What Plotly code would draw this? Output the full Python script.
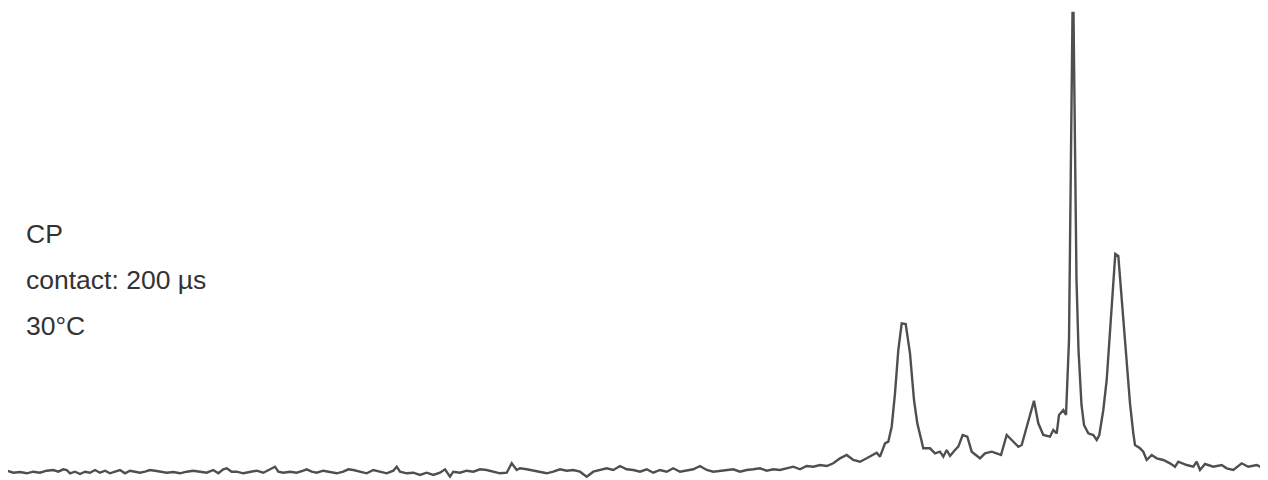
import plotly.graph_objects as go

# Chemical-shift position (arbitrary units, left to right) and signal intensity
position = [
    6.7, 13.3, 20, 26.7, 33.3, 40, 46.7, 53.3, 58.3, 63.3, 66.7, 70, 75, 80, 85, 90, 95, 100,
    105, 110, 115, 120, 125, 130, 135, 140, 145, 150, 155, 160, 166.7, 173.3, 180, 186.7,
    193.3, 200, 206.7, 213.3, 218.3, 223.3, 226.7, 231.7, 236.7, 243.3, 250, 256.7, 263.3,
    270, 275, 278.3, 283.3, 290, 296.7, 303.3, 306.7, 311.7, 316.7, 323.3, 330, 336.7, 343.3,
    348.3, 353.3, 360, 366.7, 373.3, 380, 386.7, 393.3, 396.7, 400, 406.7, 413.3, 420, 426.7,
    433.3, 440, 445, 450, 453.3, 460, 466.7, 473.3, 480, 486.7, 493.3, 500, 506.7, 511.7,
    516.7, 520, 526.7, 533.3, 540, 546.7, 553.3, 560, 566.7, 573.3, 580, 586.7, 593.3, 600,
    606.7, 613.3, 620, 626.7, 633.3, 640, 646.7, 653.3, 660, 666.7, 673.3, 680, 686.7, 693.3,
    700, 706.7, 713.3, 720, 726.7, 733.3, 740, 746.7, 753.3, 760, 766.7, 773.3, 780, 786.7,
    793.3, 800, 806.7, 813.3, 820, 826.7, 833.3, 840, 846.7, 853.3, 860, 866.7, 873.3, 876.7,
    880, 885, 888.3, 891.7, 895, 898.3, 901.7, 905.7, 910, 914, 917.3, 923.3, 930, 935, 940,
    943.3, 946.7, 950, 955, 958.3, 962.7, 967.3, 971.7, 980, 985, 991.7, 996.7, 1001, 1006.7,
    1013.3, 1018.3, 1021.7, 1026.7, 1034, 1038.3, 1043.3, 1050, 1053.3, 1056.7, 1059, 1063.3,
    1066, 1069, 1070.5, 1072.5, 1073.5, 1075, 1076.5, 1078.5, 1081.5, 1084, 1088.3, 1093.3,
    1096.7, 1099.3, 1103.3, 1106.7, 1110, 1113.3, 1115.3, 1118.3, 1123.3, 1126.7, 1130, 1133.3,
    1135, 1140, 1143.3, 1146.7, 1151.7, 1156.7, 1163.3, 1170, 1175, 1178.3, 1186.7, 1193.3,
    1196.7, 1200, 1205, 1213.3, 1221.7, 1226.7, 1233.3, 1241.7, 1248.3, 1256.7, 1263.3, 1268,
]
intensity = [
    9.3, 7.3, 8, 6.7, 8.3, 7.3, 9.3, 10, 8.3, 10.7, 10, 6.7, 8.3, 6, 8.3, 7.3, 10, 7.3,
    9.3, 6.7, 8.3, 10, 6.7, 9.3, 8.3, 7.3, 8.3, 10, 9.3, 8.3, 7.3, 8, 6.7, 8.3,
    9.3, 8.3, 7.3, 10, 6.7, 10.7, 11.7, 8.3, 8.3, 6.7, 8.3, 9.3, 7.3,
    10.7, 13.3, 8.3, 7.3, 8.3, 7.3, 9.3, 10.7, 8.3, 7.3, 9.3, 8.3, 6.7, 8.3,
    10.7, 10, 8.3, 6.7, 10, 8.3, 6.7, 9.3, 13.3, 8.3, 6.7, 7.3, 5, 7.3,
    5, 7.3, 10.7, 3.3, 8.3, 7.3, 9.3, 8.3, 10.7, 10, 8.3, 6.7, 7.3, 16.7,
    10, 11.7, 10.7, 9.3, 8.3, 6.7, 8.3, 10.7, 9.3, 10, 8.3, 3.3, 8.3, 10,
    11.7, 10, 14, 10.7, 10, 8.3, 10.7, 7.3, 10, 8.3, 11.7, 8.3, 9.3, 10.7,
    14, 10, 8.3, 9.3, 10, 10.7, 8.3, 10, 10.7, 11.7, 9.3, 10.7, 10, 11.7,
    13.3, 10.7, 14, 13.3, 15, 14, 16.7, 21.7, 25, 20, 18.3, 21.7, 25, 27.3,
    23.3, 36.7, 38.3, 53.3, 86.7, 130, 156.7, 156, 126.7, 80, 56.7, 31.7, 31.7, 26.7, 28.3,
    23.3, 30, 24, 30, 33.3, 45, 43.3, 28.3, 21.7, 26.7, 28.3, 26.7, 25, 45,
    38.3, 33.3, 35, 53.3, 79.3, 56.7, 45, 43.3, 50, 46.7, 65, 70,
    65, 140, 300, 467, 467, 320, 200, 130, 75, 55, 46.7, 45,
    40, 45, 70, 100, 146.7, 200, 226, 224, 160, 113.3, 76.7, 46.7,
    35, 31.7, 28.3, 20, 25, 21.7, 20, 16.7, 13.3, 18.3, 15, 13.3,
    18.3, 10, 16, 13.3, 15, 11.7, 10, 16.7, 13.3, 15, 11.7, 13.3,
]

labels = ["CP", "contact: 200 µs", "30°C"]

# the page body has an 8px margin; size the figure to the remaining visible area
W, H, OFF = 1260, 472, 8

fig = go.Figure()
fig.add_trace(go.Scatter(
    x=position, y=intensity, mode="lines",
    line=dict(color="#4f4f4f", width=2.4),
    hoverinfo="skip",
))

for i, t in enumerate(labels):
    fig.add_annotation(
        text=t, xref="paper", yref="paper",
        x=(24 - OFF) / W, y=1 - (234 + i * 46 - OFF) / H,
        xanchor="left", yanchor="middle", showarrow=False,
        font=dict(family="Liberation Sans, Arial, sans-serif", size=26.5, color="#333333"),
    )

fig.update_layout(
    width=W, height=H,
    margin=dict(l=0, r=0, t=0, b=0),
    paper_bgcolor="white", plot_bgcolor="white",
    showlegend=False,
    xaxis=dict(range=[OFF, OFF + W], visible=False),
    yaxis=dict(range=[0, H], visible=False),
)

fig.write_html("out.html")
